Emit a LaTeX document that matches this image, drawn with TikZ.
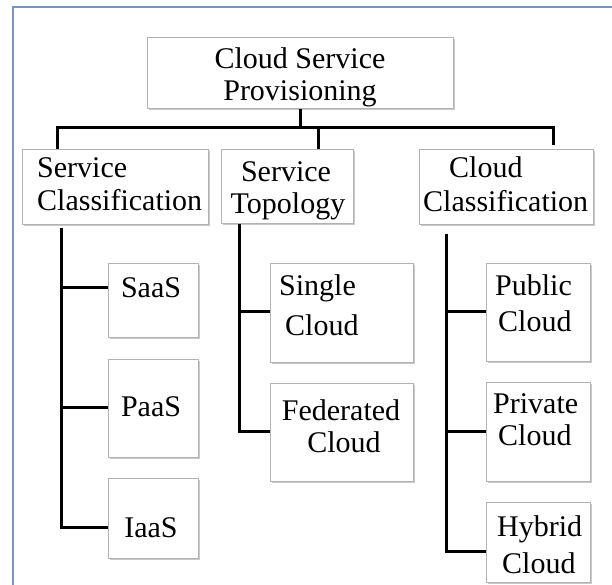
\documentclass[tikz,border=0pt]{standalone}
\usepackage{fontspec}
\setmainfont{Liberation Serif}
\usetikzlibrary{shadows,calc}
\definecolor{framec}{RGB}{122,150,190}
\begin{document}
\begin{tikzpicture}[x=1pt,y=-1pt,
  box/.style={draw=black!30, line width=0.8pt, fill=white, inner sep=0pt, anchor=north west,
    drop shadow={shadow xshift=1.6pt, shadow yshift=-1.6pt, fill=black!35, opacity=0.6}},
  lbl/.style={font=\fontsize{30}{33}\selectfont, inner sep=0pt, anchor=base},
  lblw/.style={lbl, anchor=base west},
  conn/.style={line width=3pt, black}]
\useasboundingbox (0,0) rectangle (612,584);
\clip (0,0) rectangle (612,584);
\fill[white] (0,0) rectangle (612,584);
\draw[line width=2pt, framec] (13,620) -- (13,7) -- (640,7);

% boxes
\node[box, minimum width=306pt, minimum height=71pt] (top) at (147,37) {};
\node[box, minimum width=186pt, minimum height=75pt] (sc) at (22,149) {};
\node[box, minimum width=132pt, minimum height=74pt] (st) at (221,149) {};
\node[box, minimum width=174pt, minimum height=75pt] (cc) at (419,149) {};
\node[box, minimum width=90pt, minimum height=74pt] (saas) at (108,263) {};
\node[box, minimum width=90pt, minimum height=98pt] (paas) at (108,359) {};
\node[box, minimum width=90pt, minimum height=80pt] (iaas) at (108,478) {};
\node[box, minimum width=143pt, minimum height=99pt] (single) at (270,263) {};
\node[box, minimum width=143pt, minimum height=98pt] (fed) at (270,383) {};
\node[box, minimum width=104pt, minimum height=98pt] (pub) at (486,263) {};
\node[box, minimum width=104pt, minimum height=99pt] (priv) at (486,382) {};
\node[box, minimum width=104pt, minimum height=80pt] (hyb) at (486,502) {};

% texts
\node[lbl] (topa) at (300,68) {Cloud Service};
\node[lbl] (topb) at (300,100) {Provisioning};
\node[lblw] (sca) at (37,177) {Service};
\node[lblw] (scb) at (37,210) {Classification};
\node[lbl] (sta) at (286,181) {Service};
\node[lbl] (stb) at (288,213) {Topology};
\node[lblw] (cca) at (449,177) {Cloud};
\node[lblw] (ccb) at (423,211) {Classification};
\node[lbl] (saast) at (151,297) {SaaS};
\node[lbl] (paast) at (151,416) {PaaS};
\node[lbl] (iaast) at (151,537) {IaaS};
\node[lblw] (singa) at (279,295) {Single};
\node[lblw] (singb) at (285,335) {Cloud};
\node[lbl] (feda) at (341,420) {Federated};
\node[lbl] (fedb) at (344,452) {Cloud};
\node[lblw] (puba) at (495,295) {Public};
\node[lblw] (pubb) at (498,331) {Cloud};
\node[lblw] (priva) at (493,413) {Private};
\node[lblw] (privb) at (498,445) {Cloud};
\node[lblw] (hyba) at (497,536) {Hybrid};
\node[lblw] (hybb) at (502,573) {Cloud};

% connectors level 1
\coordinate (bus) at ($(top.south)+(0,19)$);
\draw[conn] (top.south) -- (bus);
\draw[conn] (sc.north -| 57,0) |- (bus) -| ($(cc.north -| 553,0)+(0,-4)$);
\draw[conn] (bus -| 318,0) -- (st.north -| 318,0);

% connectors level 2
\coordinate (scv) at ($(sc.south -| 61,0)+(0,3)$);
\draw[conn] (scv) |- (iaas.west |- 0,527);
\draw[conn] (scv) |- (paas.west |- 0,407);
\draw[conn] (scv) |- (saas.west |- 0,287);

\coordinate (stv) at (st.south -| 239,0);
\draw[conn] (stv) |- (fed.west |- 0,431);
\draw[conn] (stv) |- (single.west |- 0,311);

\coordinate (ccv) at ($(cc.south -| 446,0)+(0,9)$);
\draw[conn] (ccv) |- (hyb.west |- 0,551);
\draw[conn] (ccv) |- (priv.west |- 0,431);
\draw[conn] (ccv) |- (pub.west |- 0,311);
\end{tikzpicture}
\end{document}
